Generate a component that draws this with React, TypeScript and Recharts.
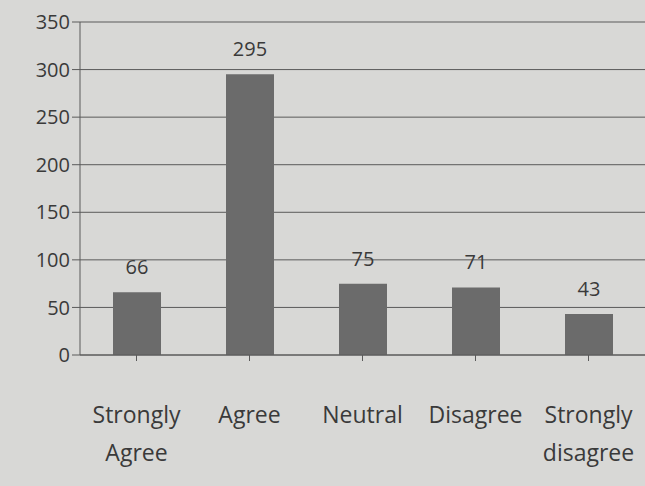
import { BarChart, Bar, XAxis, YAxis, CartesianGrid, LabelList } from 'recharts'

const categories = ['Strongly Agree', 'Agree', 'Neutral', 'Disagree', 'Strongly disagree']
const responses = [66, 295, 75, 71, 43]
const yTicks = [0, 50, 100, 150, 200, 250, 300, 350]

const chartData = categories.map((name, i) => ({ name, count: responses[i] }))

const FONT = '"Open Sans", "Liberation Sans", sans-serif'
const INK = '#3a3a3a'

function CategoryTick(props: any) {
    const { x, y, payload } = props
    const words = String(payload.value).split(' ')
    return (
        <text x={x} y={y + 60} textAnchor="middle" fill={INK} fontSize={23} fontFamily={FONT}>
            {words.map((w: string, i: number) => (
                <tspan key={i} x={x} dy={i === 0 ? 0 : 38}>{w}</tspan>
            ))}
        </text>
    )
}

export default function App() {
    return (
        <div style={{ position: 'absolute', left: 0, top: 0, width: 645, height: 486, background: '#d8d8d6' }}>
            <BarChart
                width={645}
                height={486}
                data={chartData}
                margin={{ top: 22, right: 0, bottom: 21, left: 0 }}
                barCategoryGap={0}
            >
                <CartesianGrid vertical={false} stroke="#5a5a5a" strokeWidth={1} />
                <XAxis
                    dataKey="name"
                    height={110}
                    interval={0}
                    tick={<CategoryTick />}
                    axisLine={{ stroke: '#5a5a5a' }}
                    tickLine={{ stroke: '#5a5a5a' }}
                />
                <YAxis
                    width={80}
                    domain={[0, 350]}
                    ticks={yTicks}
                    interval={0}
                    tick={{ fill: INK, fontSize: 20, fontFamily: FONT }}
                    axisLine={{ stroke: '#5a5a5a' }}
                    tickLine={{ stroke: '#5a5a5a' }}
                    tickSize={8}
                />
                <Bar dataKey="count" fill="#6b6b6b" barSize={48} isAnimationActive={false}>
                    <LabelList dataKey="count" position="top" offset={18} fill={INK} fontSize={20} fontFamily={FONT} />
                </Bar>
            </BarChart>
        </div>
    )
}
